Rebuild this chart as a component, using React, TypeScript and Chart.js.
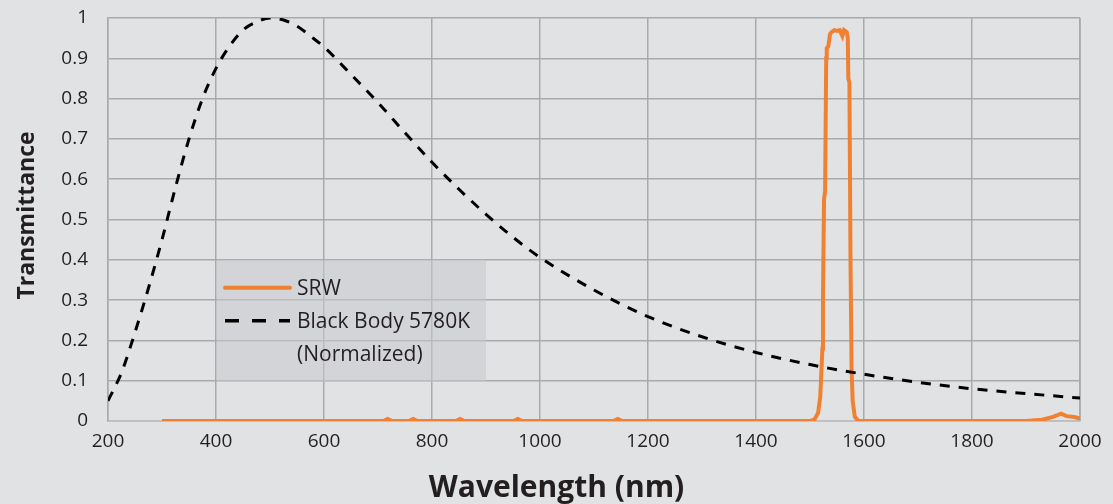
import React, { useEffect, useRef } from "react";
import { Chart, registerables } from "chart.js";

Chart.register(...registerables);

// Black body 5780K (normalized)
const bbWavelength = [200, 225, 250, 275, 300, 325, 350, 375, 400, 425, 450, 475, 500, 525, 550, 575, 600, 650, 700, 750, 800, 850, 900, 950, 1000, 1100, 1200, 1300, 1400, 1500, 1600, 1700, 1800, 1900, 2000];
const bbValue = [0.05, 0.12, 0.22, 0.33, 0.45, 0.58, 0.7, 0.8, 0.875, 0.93, 0.97, 0.99, 1.0, 0.995, 0.98, 0.955, 0.928, 0.86, 0.79, 0.715, 0.642, 0.575, 0.513, 0.456, 0.406, 0.325, 0.259, 0.209, 0.17, 0.14, 0.116, 0.096, 0.08, 0.068, 0.057];

// SRW transmittance
const srwWavelength = [300, 710, 718, 726, 757, 765, 773, 844, 852, 860, 951, 959, 967, 1136, 1144, 1152, 1500, 1508, 1515, 1519, 1521, 1523, 1524, 1526, 1528, 1530, 1531, 1534, 1537, 1540, 1545, 1550, 1555, 1560, 1563, 1568, 1570, 1571, 1573, 1575, 1577, 1579, 1583, 1590, 1900, 1930, 1950, 1965, 1975, 1990, 2000];
const srwValue = [0, 0, 0.005, 0, 0, 0.005, 0, 0, 0.005, 0, 0, 0.005, 0, 0, 0.005, 0, 0, 0.003, 0.02, 0.06, 0.12, 0.18, 0.3, 0.55, 0.57, 0.9, 0.925, 0.93, 0.96, 0.965, 0.97, 0.968, 0.97, 0.955, 0.97, 0.965, 0.95, 0.85, 0.84, 0.4, 0.13, 0.05, 0.01, 0, 0, 0.003, 0.01, 0.018, 0.012, 0.01, 0.006];

const xTicks = [200, 400, 600, 800, 1000, 1200, 1400, 1600, 1800, 2000];
const legendLabels = ["SRW", "Black Body 5780K", "(Normalized)"];
const xTitle = "Wavelength (nm)";
const yTitle = "Transmittance";

const FONT = "'Open Sans', 'Noto Sans', sans-serif";
const ORANGE = "#f08132";
const BG = "#e1e2e4";
const GRID = "#a9aaac";
const TEXT = "#231f20";

const overlayPlugin = {
  id: "overlay",
  afterDraw(chart: any) {
    const ctx = chart.ctx;
    const xs = chart.scales.x;
    const ys = chart.scales.y;
    const ca = chart.chartArea;
    ctx.save();
    // axis titles
    ctx.fillStyle = TEXT;
    ctx.textAlign = "center";
    ctx.textBaseline = "middle";
    ctx.font = `bold 30px ${FONT}`;
    ctx.fillText(xTitle, chart.width / 2, 488);
    ctx.save();
    ctx.translate(27, (ca.top + ca.bottom) / 2 - 4);
    ctx.rotate(-Math.PI / 2);
    ctx.font = `bold 23px ${FONT}`;
    ctx.fillText(yTitle, 0, 0);
    ctx.restore();

    // legend box anchored to data coordinates of the plot
    const x0 = xs.getPixelForValue(400) + 1;
    const x1 = xs.getPixelForValue(900);
    const y0 = ys.getPixelForValue(0.4);
    const y1 = ys.getPixelForValue(0.1) + 1;
    ctx.fillStyle = "rgba(200,201,204,0.55)";
    ctx.fillRect(x0, y0, x1 - x0, y1 - y0);
    ctx.font = `21px ${FONT}`;
    ctx.textAlign = "left";
    ctx.textBaseline = "middle";
    ctx.fillStyle = TEXT;
    const lx = x0 + 8;
    const tx = x0 + 80;
    const r1 = y0 + 28;
    const r2 = y0 + 61;
    const r3 = y0 + 94;
    ctx.lineCap = "round";
    ctx.strokeStyle = ORANGE;
    ctx.lineWidth = 4;
    ctx.beginPath();
    ctx.moveTo(lx, r1);
    ctx.lineTo(lx + 65, r1);
    ctx.stroke();
    ctx.strokeStyle = "#000";
    ctx.lineWidth = 3.5;
    ctx.lineCap = "butt";
    ctx.setLineDash([14, 13]);
    ctx.beginPath();
    ctx.moveTo(lx, r2);
    ctx.lineTo(lx + 65, r2);
    ctx.stroke();
    ctx.setLineDash([]);
    ctx.fillText(legendLabels[0], tx, r1 + 1);
    ctx.fillText(legendLabels[1], tx, r2 + 1);
    ctx.fillText(legendLabels[2], tx, r3 + 1);
    ctx.restore();
  },
};

export default function App() {
  const ref = useRef<HTMLCanvasElement | null>(null);
  useEffect(() => {
    if (!ref.current) return;
    const chart = new Chart(ref.current, {
      type: "line",
      data: {
        datasets: [
          {
            label: "Black Body 5780K (Normalized)",
            data: bbWavelength.map((x, i) => ({ x, y: bbValue[i] })),
            borderColor: "#000",
            borderWidth: 3,
            borderDash: [10, 9],
            pointRadius: 0,
            cubicInterpolationMode: "monotone",
            fill: false,
          },
          {
            label: "SRW",
            data: srwWavelength.map((x, i) => ({ x, y: srwValue[i] })),
            borderColor: ORANGE,
            borderWidth: 4,
            pointRadius: 0,
            tension: 0,
            fill: false,
          },
        ],
      },
      options: {
        animation: false,
        responsive: false,
        devicePixelRatio: 1,
        layout: { padding: { top: 18, right: 33, left: 0, bottom: 0 } },
        plugins: { legend: { display: false }, tooltip: { enabled: false } },
        scales: {
          x: {
            type: "linear",
            min: 200,
            max: 2000,
            afterBuildTicks: (s: any) => {
              s.ticks = xTicks.map((v) => ({ value: v }));
            },
            afterFit: (s: any) => {
              s.height = 83;
              s.paddingLeft = 0;
              s.paddingRight = 0;
            },
            grid: { color: GRID, lineWidth: 1.5, drawTicks: false },
            border: { color: "#bdbec0", width: 1.5 },
            ticks: {
              color: TEXT,
              font: { family: FONT, size: 19 },
              padding: 9,
              maxRotation: 0,
              callback: (v: any) => String(v),
            },
          },
          y: {
            min: 0,
            max: 1,
            afterFit: (s: any) => {
              s.width = 108;
              s.paddingTop = 0;
              s.paddingBottom = 0;
            },
            grid: { color: GRID, lineWidth: 1.5, drawTicks: false },
            border: { color: GRID, width: 1.5 },
            ticks: {
              stepSize: 0.1,
              color: TEXT,
              font: { family: FONT, size: 19 },
              padding: 20,
              callback: (v: any) => String(Math.round(v * 10) / 10),
            },
          },
        },
      },
      plugins: [
        overlayPlugin,
        {
          id: "rightBorder",
          beforeDatasetsDraw(chart: any) {
            const { ctx, chartArea } = chart;
            ctx.save();
            ctx.strokeStyle = GRID;
            ctx.lineWidth = 1.5;
            ctx.beginPath();
            ctx.moveTo(chartArea.right, chartArea.top);
            ctx.lineTo(chartArea.right, chartArea.bottom);
            ctx.stroke();
            ctx.restore();
          },
        },
      ],
    } as any);
    return () => chart.destroy();
  }, []);
  return (
    <div style={{ position: "fixed", left: 0, top: 0, width: 1113, height: 504, background: BG }}>
      <canvas ref={ref} width={1113} height={504} style={{ width: 1113, height: 504, display: "block" }} />
    </div>
  );
}
